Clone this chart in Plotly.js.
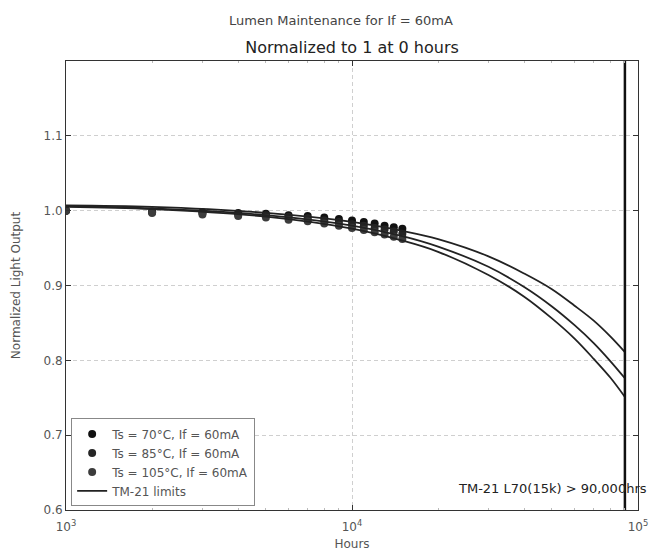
<!DOCTYPE html>
<html>
<head>
<meta charset="utf-8">
<script src="https://cdn.plot.ly/plotly-3.0.1.min.js"></script>
<style>html,body{margin:0;padding:0;background:#fff;}#chart{width:652px;height:553px;}</style>
</head>
<body>
<div id="chart"></div>
<script>
// Measurement hours
const hours = [1000,2000,3000,4000,5000,6000,7000,8000,9000,10000,11000,12000,13000,14000,15000];
// Measured normalized light output
const ts70  = [1.000,0.999,0.998,0.997,0.996,0.994,0.993,0.991,0.989,0.987,0.985,0.983,0.980,0.978,0.976];
const ts85  = [1.000,0.998,0.997,0.995,0.994,0.992,0.990,0.987,0.985,0.982,0.980,0.977,0.975,0.972,0.969];
const ts105 = [1.000,0.997,0.995,0.993,0.991,0.988,0.986,0.983,0.980,0.977,0.974,0.971,0.968,0.965,0.962];
// TM-21 projection curves
const projHours = [1000,2000,5000,10000,15000,20000,30000,40000,50000,60000,70000,80000,90000];
const proj70  = [1.007,1.005,0.997,0.985,0.973,0.962,0.939,0.916,0.895,0.873,0.853,0.832,0.811];
const proj85  = [1.006,1.003,0.994,0.980,0.966,0.952,0.925,0.898,0.872,0.847,0.823,0.799,0.776];
const proj105 = [1.005,1.002,0.992,0.976,0.960,0.945,0.914,0.885,0.856,0.829,0.802,0.777,0.751];
// TM-21 limit line
const limitX = [90000, 90000];
const limitY = [0.6, 1.2];
const seriesNames = ['Ts = 70°C, If = 60mA','Ts = 85°C, If = 60mA','Ts = 105°C, If = 60mA'];
const xTickVals = [1000, 10000, 100000];
const xTickText = ['10<sup>3</sup>','10<sup>4</sup>','10<sup>5</sup>'];
const xMinorVals = [2000,3000,4000,5000,6000,7000,8000,9000,20000,30000,40000,50000,60000,70000,80000,90000];
const yTickVals = [0.6,0.7,0.8,0.9,1.0,1.1];
const yTickText = ['0.6','0.7','0.8','0.9','1.0','1.1'];

const markerColors = ['#111111','#262626','#3c3c3c'];
const meas = [ts70, ts85, ts105];
const traces = [];
meas.forEach((vals,i)=>{
  traces.push({x:hours, y:vals, type:'scatter', mode:'markers', name:seriesNames[i],
    marker:{color:markerColors[i], size:8}, cliponaxis:true});
});
[proj70, proj85, proj105].forEach((vals,i)=>{
  traces.push({x:projHours, y:vals, type:'scatter', mode:'lines', name:'TM-21 limits',
    legendgroup:'tm21', showlegend:i===0, line:{color:'#222', width:1.8, shape:'spline'}});
});
traces.push({x:limitX, y:limitY, type:'scatter', mode:'lines', showlegend:false,
  line:{color:'#111', width:2.5}});

const font = 'DejaVu Sans, sans-serif';
const layout = {
  width:652, height:553,
  margin:{l:66, r:14, t:61, b:43},
  paper_bgcolor:'#fff', plot_bgcolor:'#fff',
  font:{family:font, color:'#444', size:12},
  title:{text:'Normalized to 1 at 0 hours', font:{family:font, size:16, color:'#222'},
    xref:'paper', x:0.5, xanchor:'center', yref:'container', y:1-47/553, yanchor:'middle'},
  xaxis:{type:'log', range:[3,5], tickvals:xTickVals, ticktext:xTickText,
    showline:true, mirror:'ticks', linecolor:'#333', linewidth:1,
    ticks:'inside', ticklen:5, tickcolor:'#333', ticklabelstandoff:6,
    showgrid:true, gridcolor:'#cfcfcf', griddash:'4px,3px', gridwidth:1,
    minor:{tickvals:xMinorVals, ticks:'inside', ticklen:2, tickcolor:'#bbb', showgrid:false},
    zeroline:false, tickfont:{size:12, color:'#555'},
    title:{text:'Hours', font:{size:12, color:'#555'}, standoff:6}},
  yaxis:{range:[0.6,1.2], tickvals:yTickVals, ticktext:yTickText,
    showline:true, mirror:'ticks', linecolor:'#333', linewidth:1,
    ticks:'inside', ticklen:5, tickcolor:'#333',
    showgrid:true, gridcolor:'#cfcfcf', griddash:'4px,3px', gridwidth:1,
    zeroline:false, tickfont:{size:12, color:'#555'},
    title:{text:'Normalized Light Output', font:{size:12, color:'#555'}, standoff:20}},
  legend:{x:0.009, y:0.008, xanchor:'left', yanchor:'bottom',
    bgcolor:'#fff', bordercolor:'#888', borderwidth:1,
    font:{size:12, color:'#555'}, tracegroupgap:0, itemwidth:30},
  annotations:[
    {text:'Lumen Maintenance for If = 60mA', xref:'paper', yref:'paper', x:0.48, y:(510-20)/449,
      xanchor:'center', yanchor:'middle', showarrow:false, font:{family:font, size:13, color:'#444'}},
    {text:'TM-21 L70(15k) > 90,000hrs', xref:'paper', yref:'paper', x:(649-66)/572, y:(510-488)/449,
      xanchor:'right', yanchor:'middle', showarrow:false, font:{family:font, size:13, color:'#222'}}
  ],
  showlegend:true
};
Plotly.newPlot('chart', traces, layout, {staticPlot:true, displayModeBar:false});
</script>
</body>
</html>
